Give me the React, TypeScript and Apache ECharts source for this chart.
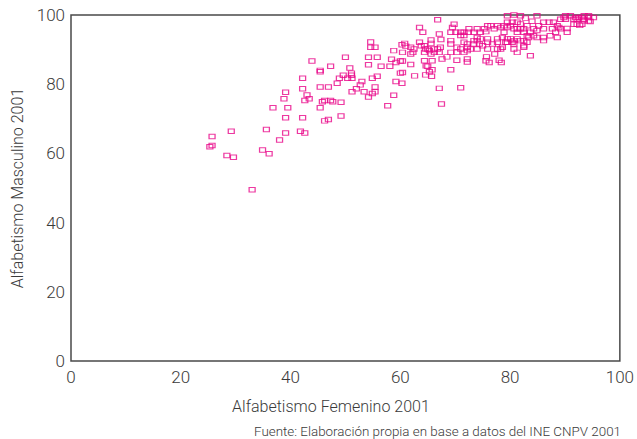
import React, { useEffect, useRef } from "react";
import * as echarts from "echarts";

// [Alfabetismo Femenino 2001, Alfabetismo Masculino 2001]
const puntosBajos: [number, number][] = [
  [25.3, 61.9], [25.7, 62.3], [25.7, 64.9], [28.4, 59.4], [29.2, 66.4], [29.6, 58.9],
  [33.0, 49.5], [34.9, 61.0], [35.6, 66.9], [36.1, 59.9], [36.8, 73.2], [38.0, 63.9],
  [38.8, 75.8], [39.1, 77.7], [39.1, 70.3], [39.1, 65.9], [39.5, 73.2], [41.8, 66.4],
  [42.2, 70.3], [42.2, 78.7], [42.2, 81.7], [42.6, 75.3], [42.6, 65.9], [43.0, 76.9],
  [43.4, 75.8], [43.9, 86.7], [45.4, 84.0], [45.4, 83.6], [45.4, 79.2], [45.4, 73.2],
  [45.8, 74.9], [46.2, 75.3], [46.2, 69.4], [46.9, 79.2], [46.9, 69.8], [47.3, 75.3],
  [47.3, 85.2], [47.7, 74.9], [48.5, 80.3], [48.9, 81.7], [49.2, 74.8], [49.2, 70.8],
  [49.6, 82.6],
];

const puntosMedios: [number, number][] = [
  [50.0, 87.8], [50.4, 81.7], [50.8, 84.7], [51.1, 83.2], [51.1, 82.6], [51.2, 81.7],
  [51.2, 77.8], [52.0, 78.7], [52.7, 79.8], [53.0, 80.8], [53.4, 77.8], [54.2, 76.3],
  [54.2, 85.6], [54.2, 87.8], [54.6, 90.7], [54.6, 92.2], [54.9, 77.3], [54.9, 81.7],
  [55.4, 77.8], [55.4, 79.2], [55.4, 90.7], [55.8, 82.3], [55.8, 87.8], [56.5, 85.2],
  [57.7, 73.8], [58.1, 85.2], [58.4, 87.2], [58.8, 89.7], [58.8, 76.8], [59.2, 86.3],
  [59.2, 80.8], [60.0, 86.7], [60.4, 86.7], [60.0, 83.2], [60.3, 80.3], [60.3, 91.4],
  [60.8, 91.8], [61.0, 91.0], [60.4, 89.2], [60.4, 83.4], [61.9, 85.7], [61.9, 90.7],
  [61.9, 88.7], [62.3, 89.2], [62.5, 90.2], [62.6, 82.4], [63.5, 92.1], [63.5, 96.4],
  [63.8, 91.1], [64.1, 95.0], [64.4, 91.1], [64.4, 86.8], [64.4, 89.2], [64.6, 90.2],
  [64.6, 82.7], [64.7, 85.3], [65.0, 90.2], [65.0, 85.2], [65.3, 89.7], [65.3, 83.6],
  [65.6, 91.8], [65.6, 92.8], [65.6, 88.7], [65.7, 82.3], [65.8, 84.2], [65.8, 86.8],
  [66.2, 90.2], [66.2, 89.2], [66.8, 90.2], [66.8, 98.6], [67.1, 94.5], [67.3, 90.7],
  [67.1, 89.2], [67.1, 78.8], [67.4, 92.9], [67.5, 74.3], [67.6, 87.3], [68.5, 87.9],
  [69.2, 92.6], [69.2, 95.0], [69.2, 89.2], [69.2, 84.2], [69.2, 91.6], [69.5, 96.4],
  [69.8, 97.3],
];

const puntosAltos: [number, number][] = [
  [70.1, 95.0], [70.3, 86.9], [70.3, 89.2], [70.3, 90.7], [71.0, 95.0], [71.0, 94.1],
  [71.0, 90.2], [71.0, 79.0], [71.6, 95.0], [71.6, 94.1], [71.6, 92.1], [71.6, 89.2],
  [72.2, 87.3], [72.2, 86.4], [72.2, 89.7], [72.2, 90.7], [72.2, 91.6], [72.4, 95.0],
  [72.5, 96.0], [72.8, 90.2], [73.4, 95.0], [73.4, 92.6], [73.4, 91.6], [74.0, 96.0],
  [74.0, 93.5], [74.0, 92.6], [74.0, 90.2], [74.4, 91.6], [74.6, 95.0], [74.6, 93.1],
  [75.0, 91.1], [75.3, 96.0], [75.6, 95.2], [75.7, 87.9], [75.6, 86.8], [75.9, 96.9],
  [75.9, 93.1], [75.9, 92.1], [75.9, 90.2], [76.2, 86.3], [76.5, 96.9], [76.8, 91.6],
  [77.1, 96.0], [77.2, 88.7], [77.7, 96.9], [77.7, 93.1], [77.7, 92.1], [77.7, 90.2],
  [78.0, 86.9], [78.3, 96.4], [78.3, 90.2], [78.4, 86.3], [78.6, 93.5], [78.6, 90.7],
  [78.9, 96.9], [78.9, 95.0], [79.2, 92.1], [79.5, 99.8], [79.5, 97.9], [79.5, 96.4],
  [79.5, 93.1], [79.5, 92.1], [80.1, 96.9], [80.1, 93.1], [80.4, 97.9], [80.4, 92.1],
  [80.7, 100.0], [80.7, 96.0], [80.7, 92.6], [80.7, 91.6], [80.7, 90.2], [81.3, 97.9],
  [81.3, 96.0], [81.3, 95.0], [81.3, 93.1], [81.3, 89.2], [81.9, 99.8], [81.9, 97.4],
  [81.9, 96.0], [81.9, 92.6], [82.5, 96.0], [82.5, 95.0], [82.5, 92.6], [82.5, 91.1],
  [82.5, 90.7], [82.8, 99.1], [83.1, 96.9], [83.1, 94.0], [83.1, 92.1], [83.4, 93.5],
  [83.7, 95.0], [83.7, 88.2], [84.0, 98.2], [84.3, 96.0], [84.3, 94.0], [84.9, 99.8],
  [84.9, 95.5], [84.9, 93.5], [85.2, 96.9], [86.1, 97.9], [86.1, 96.0], [86.1, 93.5],
  [86.1, 92.6], [87.1, 97.9], [87.3, 94.0], [87.7, 96.0], [87.9, 97.9], [88.3, 95.0],
  [88.6, 96.9], [88.6, 93.5], [88.9, 96.4], [89.2, 98.8], [89.2, 96.0], [89.8, 99.3],
  [90.1, 99.8], [90.1, 98.8], [90.4, 96.1], [90.4, 95.0], [91.0, 99.8], [91.6, 98.8],
  [91.6, 97.3], [91.9, 99.3], [92.2, 98.8], [92.2, 97.3], [92.5, 99.3], [92.7, 97.0],
  [93.1, 99.3], [93.1, 97.3], [93.4, 98.8], [93.5, 99.8], [93.5, 98.3], [94.3, 99.3],
  [94.3, 99.8], [94.3, 98.3], [94.6, 98.1], [95.2, 99.3],
];

const ticksX = [0, 20, 40, 60, 80, 100];
const ticksY = [0, 20, 40, 60, 80, 100];

const FONT = "Roboto, 'Liberation Sans', sans-serif";
const TEXT = "#3a3a3a";
const PINK = "#e8078a";

export default function App() {
  const ref = useRef<HTMLDivElement>(null);
  useEffect(() => {
    if (!ref.current) return;
    const chart = echarts.init(ref.current, undefined, { renderer: "svg" });
    const data = [...puntosBajos, ...puntosMedios, ...puntosAltos];
    chart.setOption({
      animation: false,
      backgroundColor: "#ffffff",
      grid: {
        left: 71,
        right: 17,
        top: 15,
        bottom: 78,
        show: true,
        borderColor: "#4a4a4a",
        borderWidth: 1.5,
        backgroundColor: "transparent",
      },
      xAxis: {
        type: "value",
        min: ticksX[0],
        max: ticksX[ticksX.length - 1],
        interval: 20,
        name: "Alfabetismo Femenino 2001",
        nameLocation: "middle",
        nameGap: 37,
        nameTextStyle: { fontFamily: FONT, fontWeight: 300, fontSize: 16, color: TEXT, padding: [0, 29, 0, 0] },
        axisLine: { show: false },
        axisTick: { show: false },
        splitLine: { show: false },
        axisLabel: { fontFamily: FONT, fontWeight: 300, fontSize: 17, color: TEXT, margin: 7 },
      },
      yAxis: {
        type: "value",
        min: ticksY[0],
        max: ticksY[ticksY.length - 1],
        interval: 20,
        name: "Alfabetismo Masculino 2001",
        nameLocation: "middle",
        nameGap: 40,
        nameTextStyle: { fontFamily: FONT, fontWeight: 300, fontSize: 16, color: TEXT },
        axisLine: { show: false },
        axisTick: { show: false },
        splitLine: { show: false },
        axisLabel: { fontFamily: FONT, fontWeight: 300, fontSize: 17, color: TEXT, margin: 6, padding: [6, 0, 0, 0] },
      },
      graphic: [
        {
          type: "text",
          x: 621,
          y: 431,
          style: {
            text: "Fuente: Elaboración propia en base a datos del INE CNPV 2001",
            font: `300 13.4px ${FONT}`,
            fill: TEXT,
            textAlign: "right",
            textVerticalAlign: "middle",
          },
        },
      ],
      series: [
        {
          type: "scatter",
          data,
          symbol: "rect",
          symbolSize: [6, 4.5],
          itemStyle: { color: "rgba(255,255,255,0)", borderColor: PINK, borderWidth: 1.1 },
        },
      ],
    });
    return () => chart.dispose();
  }, []);
  return (
    <div
      ref={ref}
      style={{ position: "absolute", left: 0, top: 0, width: 637, height: 439 }}
    />
  );
}
